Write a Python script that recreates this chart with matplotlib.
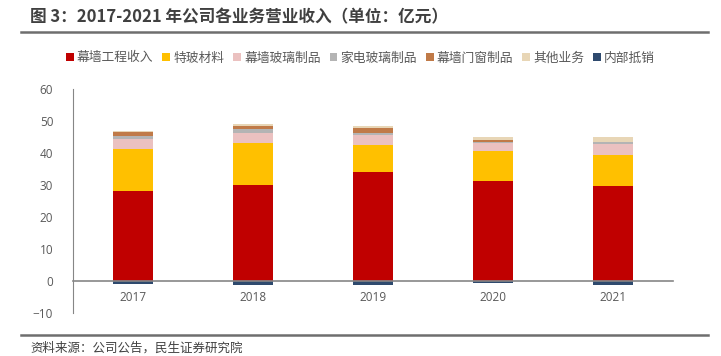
import numpy as np
import matplotlib.pyplot as plt
from matplotlib.lines import Line2D

plt.rcParams['font.family'] = ['Noto Sans CJK SC', 'DejaVu Sans']

years = ['2017', '2018', '2019', '2020', '2021']
series_names = ['幕墙工程收入', '特玻材料', '幕墙玻璃制品', '家电玻璃制品', '幕墙门窗制品', '其他业务', '内部抵销']
curtain_wall = [28.3, 29.9, 34.0, 31.2, 29.8]
special_glass = [12.9, 13.1, 8.4, 9.3, 9.7]
wall_glass = [3.2, 3.4, 3.1, 2.7, 3.4]
appliance_glass = [0.9, 1.0, 0.9, 0.3, 0.5]
doors_windows = [1.2, 1.2, 1.4, 0.6, 0.2]
other = [0.4, 0.5, 0.7, 0.9, 1.5]
elimination = [-0.8, -1.2, -1.2, -0.6, -1.2]

colors = ['#C00000', '#FFC000', '#EBC1C0', '#B4B4B4', '#C07A48', '#E8D6B6', '#2E4A6E']

fig = plt.figure(figsize=(7.21, 3.56), dpi=100)
ax = fig.add_axes([0.1008, 0.12, 0.833, 0.63])

x = np.arange(len(years))
w = 0.33
bottom = np.zeros(len(years))
pos_series = [curtain_wall, special_glass, wall_glass, appliance_glass, doors_windows, other]
for vals, c, name in zip(pos_series, colors[:6], series_names[:6]):
    ax.bar(x, vals, w, bottom=bottom, color=c, label=name, zorder=2)
    bottom += np.array(vals)
ax.bar(x, elimination, w, color=colors[6], label=series_names[6], zorder=2)

ax.set_xlim(-0.5, len(years) - 0.5)
ax.set_ylim(-10, 60)
ax.set_yticks(range(-10, 61, 10))
# zero line doubles as the category axis
ax.spines['bottom'].set_position(('data', 0))
ax.spines['bottom'].set_color('#868686')
ax.spines['bottom'].set_linewidth(1.2)
ax.spines['bottom'].set_zorder(3)
for s in ['top', 'right']:
    ax.spines[s].set_visible(False)
ax.spines['left'].set_color('#868686')
ax.tick_params(axis='both', length=0, colors='#595959', labelsize=8.5)
ax.tick_params(axis='y', pad=14)
ax.tick_params(axis='x', pad=7)
ax.set_xticks(x)
ax.set_xticklabels(years)
for lbl in ax.get_yticklabels() + ax.get_xticklabels():
    lbl.set_family(['Open Sans', 'DejaVu Sans'])

handles, labels = ax.get_legend_handles_labels()
fig.legend(handles, labels, loc='center', bbox_to_anchor=(0.5, 1 - 58 / 356), ncol=7, frameon=False,
           fontsize=9.2, handlelength=0.6, handleheight=0.6, handletextpad=0.25, columnspacing=0.7,
           labelcolor='#595959')

fig.text(30 / 721, 1 - 17 / 356, '图 3：2017-2021 年公司各业务营业收入（单位：亿元）', fontsize=12,
         fontweight='bold', color='#404040', va='center', ha='left')
fig.add_artist(Line2D([21 / 721, 708 / 721], [1 - 32 / 356, 1 - 32 / 356], color='#6E6E6E', lw=1.8))
fig.add_artist(Line2D([21 / 721, 708 / 721], [1 - 335 / 356, 1 - 335 / 356], color='#6E6E6E', lw=1.8))
fig.text(30 / 721, 1 - 348 / 356, '资料来源：公司公告，民生证券研究院', fontsize=9, color='#404040',
         va='center', ha='left')

fig.savefig('out.png', dpi=100)
